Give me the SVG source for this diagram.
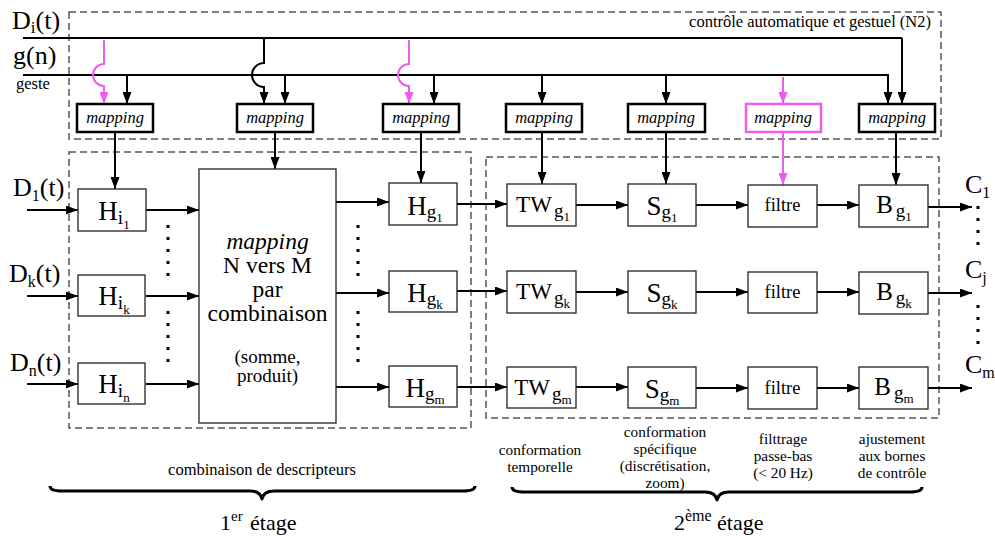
<svg xmlns="http://www.w3.org/2000/svg" width="995" height="536" viewBox="0 0 995 536">
<style>
text { font-family: "Liberation Serif", "Times New Roman", serif; fill: #000; }
.box { fill: #fff; stroke: #333; stroke-width: 1.4; }
.map { fill: #fff; stroke: #000; stroke-width: 2.5; }
.mapp { fill: #fff; stroke: #ee5cee; stroke-width: 2.5; }
.dash { fill: none; stroke: #555; stroke-width: 1.5; stroke-dasharray: 7 4; }
.ln { fill: none; stroke: #000; stroke-width: 2; }
.lna { fill: none; stroke: #000; stroke-width: 2; marker-end: url(#ah); }
.pka { fill: none; stroke: #ee5cee; stroke-width: 2; marker-end: url(#ahp); }
.dots { fill: none; stroke: #000; stroke-width: 3; stroke-dasharray: 3 9; }
.brace { fill: none; stroke: #000; stroke-width: 3; stroke-linejoin: round; }
.mt { font-size: 16.5px; font-style: italic; text-anchor: middle; }
.lbl { font-size: 16.5px; text-anchor: middle; }
.lbs { font-size: 15.3px; text-anchor: middle; }
.H { font-size: 27px; text-anchor: middle; }
.big { font-size: 26px; }
</style>
<defs>
<marker id="ah" markerUnits="userSpaceOnUse" markerWidth="12" markerHeight="9" refX="12" refY="4.5" orient="auto"><path d="M0,0 L12,4.5 L0,9 z" fill="#000"/></marker>
<marker id="ahp" markerUnits="userSpaceOnUse" markerWidth="12" markerHeight="9" refX="12" refY="4.5" orient="auto"><path d="M0,0 L12,4.5 L0,9 z" fill="#ee5cee"/></marker>
</defs>
<rect width="995" height="536" fill="#fff"/>

<g id="frames">
<rect class="dash" x="69" y="12" width="872" height="127"/>
<rect class="dash" x="69" y="152" width="402" height="276"/>
<rect class="dash" x="486" y="157" width="453" height="261"/>
</g>

<g id="signals">
<text class="big" x="12" y="29">D<tspan font-size="17" dy="4">i</tspan><tspan dy="-4">(t)</tspan></text>
<text class="big" x="13" y="64">g(n)</text>
<text x="16" y="89" font-size="16.5">geste</text>
<text x="931" y="27" font-size="16.5" text-anchor="end">contrôle automatique et gestuel (N2)</text>
<text class="big" x="13" y="196">D<tspan font-size="16" dy="5">1</tspan><tspan dy="-5">(t)</tspan></text>
<text class="big" x="9" y="282">D<tspan font-size="16" dy="5">k</tspan><tspan dy="-5">(t)</tspan></text>
<text class="big" x="10" y="371">D<tspan font-size="16" dy="5">n</tspan><tspan dy="-5">(t)</tspan></text>
<text class="big" x="965" y="193">C<tspan font-size="16" dy="5">1</tspan></text>
<text class="big" x="965" y="278">C<tspan font-size="16" dy="5">j</tspan></text>
<text class="big" x="965" y="373">C<tspan font-size="16" dy="5">m</tspan></text>
</g>

<g id="connectors">
<path class="ln" d="M23,38 H902"/>
<path class="lna" d="M902,38 V104"/>
<path class="lna" d="M23,75 H888 V104"/>
<path class="pka" d="M104,40 V64 A11,11 0 0 0 104,86 V104"/>
<path class="lna" d="M127,75 V104"/>
<path class="lna" d="M264,38 V63 A12,12 0 0 0 264,87 V104"/>
<path class="lna" d="M285,75 V104"/>
<path class="pka" d="M409,40 V64 A11,11 0 0 0 409,86 V104"/>
<path class="lna" d="M434,75 V104"/>
<path class="lna" d="M542,75 V104"/>
<path class="lna" d="M666,75 V104"/>
<path class="pka" d="M783,77 V104"/>

<path class="lna" d="M115,132 V189"/>
<path class="lna" d="M275,132 V169"/>
<path class="lna" d="M421,132 V183"/>
<path class="lna" d="M542,132 V184"/>
<path class="lna" d="M666,132 V184"/>
<path class="pka" d="M783,132 V185"/>
<path class="lna" d="M896,132 V185"/>

<path class="lna" d="M27,210 H78"/>
<path class="lna" d="M27,296 H78"/>
<path class="lna" d="M27,384 H78"/>
<path class="lna" d="M146,210 H199"/>
<path class="lna" d="M146,296 H199"/>
<path class="lna" d="M146,384 H199"/>
<path class="lna" d="M336,202 H389"/>
<path class="lna" d="M336,293 H389"/>
<path class="lna" d="M336,387 H389"/>
<path class="lna" d="M457,204 H507"/>
<path class="lna" d="M457,291 H507"/>
<path class="lna" d="M457,387 H507"/>
<path class="lna" d="M576,205 H628"/>
<path class="lna" d="M576,292 H628"/>
<path class="lna" d="M576,387 H628"/>
<path class="lna" d="M696,205 H748"/>
<path class="lna" d="M696,292 H748"/>
<path class="lna" d="M696,388 H748"/>
<path class="lna" d="M817,205 H859"/>
<path class="lna" d="M817,292 H859"/>
<path class="lna" d="M817,388 H859"/>
<path class="lna" d="M928,207 H972"/>
<path class="lna" d="M928,293 H972"/>
<path class="lna" d="M928,388 H972"/>

<path class="dots" d="M168,225 V277 M168,311 V363 M358,225 V277 M358,311 V363 M978,206 V246 M978,305 V345"/>
</g>

<g id="map1"><rect class="map" x="77" y="104" width="76" height="28"/><text class="mt" x="115" y="123">mapping</text></g>
<g id="map2"><rect class="map" x="237" y="104" width="76" height="28"/><text class="mt" x="275" y="123">mapping</text></g>
<g id="map3"><rect class="map" x="383" y="104" width="76" height="28"/><text class="mt" x="421" y="123">mapping</text></g>
<g id="map4"><rect class="map" x="506" y="104" width="76" height="28"/><text class="mt" x="544" y="123">mapping</text></g>
<g id="map5"><rect class="map" x="628" y="104" width="77" height="28"/><text class="mt" x="666" y="123">mapping</text></g>
<g id="map6"><rect class="mapp" x="746" y="104" width="75" height="28"/><text class="mt" x="783" y="123">mapping</text></g>
<g id="map7"><rect class="map" x="859" y="104" width="76" height="28"/><text class="mt" x="897" y="123">mapping</text></g>

<g id="Hi1"><rect class="box" x="78" y="189" width="68" height="42"/><text class="H" x="114" y="220">H<tspan font-size="19" dy="4">i</tspan><tspan font-size="13" dy="5">1</tspan></text></g>
<g id="Hik"><rect class="box" x="78" y="275" width="67" height="41"/><text class="H" x="114" y="305">H<tspan font-size="19" dy="4">i</tspan><tspan font-size="13" dy="5">k</tspan></text></g>
<g id="Hin"><rect class="box" x="78" y="363" width="67" height="41"/><text class="H" x="114" y="393">H<tspan font-size="19" dy="4">i</tspan><tspan font-size="13" dy="5">n</tspan></text></g>

<g id="combine">
<rect class="box" x="199" y="169" width="137" height="254"/>
<text x="267.5" y="249" font-size="23.5" text-anchor="middle"><tspan font-style="italic">mapping</tspan><tspan x="267.5" dy="24">N vers M</tspan><tspan x="267.5" dy="24">par</tspan><tspan x="267.5" dy="24">combinaison</tspan></text>
<text x="267.5" y="363" font-size="19" text-anchor="middle">(somme,<tspan x="267.5" dy="19">produit)</tspan></text>
</g>

<g id="Hg1"><rect class="box" x="389" y="183" width="68" height="42"/><text class="H" x="425" y="215">H<tspan font-size="19" dy="3">g</tspan><tspan font-size="13" dy="4">1</tspan></text></g>
<g id="Hgk"><rect class="box" x="389" y="271" width="68" height="41"/><text class="H" x="425" y="302">H<tspan font-size="19" dy="3">g</tspan><tspan font-size="13" dy="4">k</tspan></text></g>
<g id="Hgm"><rect class="box" x="389" y="366" width="68" height="41"/><text class="H" x="425" y="397">H<tspan font-size="19" dy="3">g</tspan><tspan font-size="13" dy="4">m</tspan></text></g>

<g id="TW1"><rect class="box" x="507" y="184" width="69" height="42"/><text x="543" y="212" font-size="23" text-anchor="middle">TW<tspan font-size="19" dx="2" dy="5">g</tspan><tspan font-size="13" dy="4">1</tspan></text></g>
<g id="TWk"><rect class="box" x="507" y="271" width="69" height="42"/><text x="543" y="299" font-size="23" text-anchor="middle">TW<tspan font-size="19" dx="2" dy="5">g</tspan><tspan font-size="13" dy="4">k</tspan></text></g>
<g id="TWm"><rect class="box" x="507" y="367" width="69" height="41"/><text x="543" y="395" font-size="23" text-anchor="middle">TW<tspan font-size="19" dx="2" dy="5">g</tspan><tspan font-size="13" dy="4">m</tspan></text></g>

<g id="S1"><rect class="box" x="628" y="184" width="68" height="42"/><text class="H" x="662" y="215">S<tspan font-size="19" dy="3">g</tspan><tspan font-size="13" dy="4">1</tspan></text></g>
<g id="Sk"><rect class="box" x="628" y="271" width="68" height="42"/><text class="H" x="662" y="302">S<tspan font-size="19" dy="3">g</tspan><tspan font-size="13" dy="4">k</tspan></text></g>
<g id="Sm"><rect class="box" x="628" y="367" width="68" height="41"/><text class="H" x="662" y="398">S<tspan font-size="19" dy="3">g</tspan><tspan font-size="13" dy="4">m</tspan></text></g>

<g id="F1"><rect class="box" x="748" y="185" width="69" height="42"/><text x="782.5" y="211" font-size="18.5" text-anchor="middle">filtre</text></g>
<g id="Fk"><rect class="box" x="748" y="272" width="69" height="41"/><text x="782.5" y="298" font-size="18.5" text-anchor="middle">filtre</text></g>
<g id="Fm"><rect class="box" x="748" y="367" width="69" height="42"/><text x="782.5" y="394" font-size="18.5" text-anchor="middle">filtre</text></g>

<g id="B1"><rect class="box" x="859" y="185" width="69" height="42"/><text x="894" y="213" font-size="25" text-anchor="middle">B<tspan font-size="19" dx="3" dy="4">g</tspan><tspan font-size="13" dy="4">1</tspan></text></g>
<g id="Bk"><rect class="box" x="859" y="272" width="69" height="42"/><text x="894" y="300" font-size="25" text-anchor="middle">B<tspan font-size="19" dx="3" dy="4">g</tspan><tspan font-size="13" dy="4">k</tspan></text></g>
<g id="Bm"><rect class="box" x="859" y="367" width="69" height="42"/><text x="894" y="395" font-size="25" text-anchor="middle">B<tspan font-size="19" dx="3" dy="4">g</tspan><tspan font-size="13" dy="4">m</tspan></text></g>

<g id="captions">
<text class="lbl" x="262" y="475">combinaison de descripteurs</text>
<path class="brace" d="M50,486 C50,490 55,491 62,491 L250,491 C257,491 261,494 262,499 C263,494 267,491 274,491 L463,491 C470,491 475,490 475,486"/>
<text x="220" y="530" font-size="22">1<tspan font-size="15" dy="-9">er</tspan><tspan x="250" y="530">étage</tspan></text>

<text class="lbs" x="540" y="455">conformation</text>
<text class="lbs" x="540" y="472">temporelle</text>
<text class="lbs" x="665" y="437">conformation</text>
<text class="lbs" x="665" y="454">spécifique</text>
<text class="lbs" x="665" y="471">(discrétisation,</text>
<text class="lbs" x="665" y="488">zoom)</text>
<text class="lbs" x="783" y="444">filttrage</text>
<text class="lbs" x="783" y="461">passe-bas</text>
<text class="lbs" x="783" y="478">(&lt; 20 Hz)</text>
<text class="lbs" x="892" y="444">ajustement</text>
<text class="lbs" x="892" y="461">aux bornes</text>
<text class="lbs" x="892" y="478">de contrôle</text>
<path class="brace" d="M512,487 C512,491 517,492 524,492 L705,492 C712,492 716,495 717,500 C718,495 722,492 729,492 L910,492 C917,492 922,491 922,487"/>
<text x="674" y="530" font-size="22">2<tspan font-size="16" dy="-9">ème</tspan><tspan x="717" y="530">étage</tspan></text>
</g>
</svg>
